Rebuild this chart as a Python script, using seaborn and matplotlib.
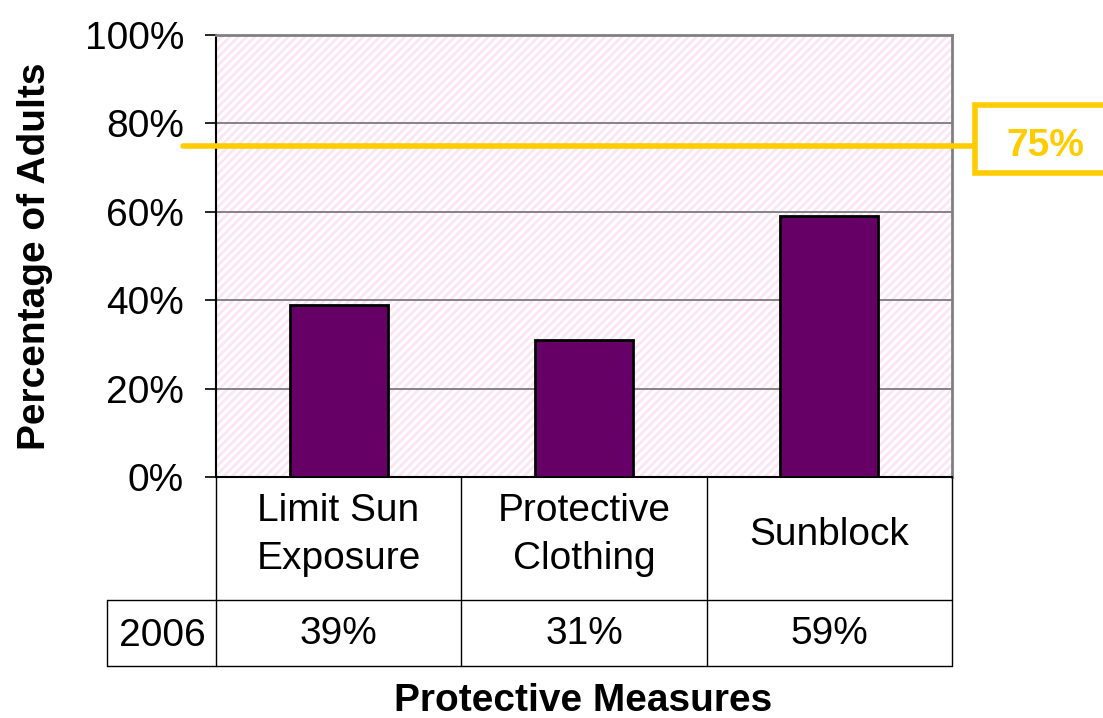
import matplotlib
matplotlib.use("Agg")
import matplotlib.pyplot as plt
import matplotlib.transforms as mtransforms
from matplotlib.patches import Rectangle
from matplotlib.lines import Line2D
import seaborn as sns
import pandas as pd

categories = ["Limit Sun\nExposure", "Protective\nClothing", "Sunblock"]
values = [39, 31, 59]
year_label = "2006"
value_labels = ["39%", "31%", "59%"]
target = 75
target_label = "75%"
yticks = [0, 20, 40, 60, 80, 100]
ytick_labels = ["0%", "20%", "40%", "60%", "80%", "100%"]

sns.set_theme(style="white")
plt.rcParams['font.family'] = ['Liberation Sans', 'DejaVu Sans']
plt.rcParams['hatch.linewidth'] = 2.0
plt.rcParams['text.color'] = 'black'
plt.rcParams['ytick.color'] = 'black'
plt.rcParams['ytick.labelcolor'] = 'black'

W, H = 1103, 718
fig = plt.figure(figsize=(W / 100, H / 100), dpi=100)
ax = fig.add_axes([216 / W, 1 - 477 / H, (952 - 216) / W, (477 - 35) / H])

df = pd.DataFrame({"cat": categories, "val": values})
bg = Rectangle((0, 0), 1, 1, transform=ax.transAxes, facecolor="white",
               edgecolor="#FCE5F4", hatch="////", linewidth=0, zorder=0)
ax.add_patch(bg)
ax.set_facecolor("white")

for t in yticks[1:]:
    ax.axhline(t, color="#707070", linewidth=1.2, zorder=1)

sns.barplot(data=df, x="cat", y="val", color="#660066", width=0.4,
            edgecolor="black", linewidth=2, saturation=1, ax=ax, zorder=3)

ax.set_ylim(0, 100)
ax.set_xlim(-0.5, 2.5)
ax.set_yticks(yticks)
ax.set_yticklabels(ytick_labels, fontsize=28)
ax.set_xticks([])
ax.set_xlabel("")
ax.set_ylabel("")
ax.tick_params(axis="y", length=8, width=1.2, color="black", pad=15, left=True)

for s in ["left", "bottom"]:
    ax.spines[s].set_color("black")
    ax.spines[s].set_linewidth(1.5)
for s in ["top", "right"]:
    ax.spines[s].set_color("#808080")
    ax.spines[s].set_linewidth(2)

# target line and box
yellow = "#FFCC00"
x0 = (183 - 216) / 736
x1 = (975 - 216) / 736
ax.axhline(target, xmin=x0, xmax=x1, color=yellow, linewidth=4,
           clip_on=False, zorder=4)
blend = mtransforms.blended_transform_factory(ax.transAxes, ax.transData)
ax.add_patch(Rectangle((x1, 68.8), 0.3, 84.2 - 68.8, transform=blend,
                       facecolor="white", edgecolor=yellow, linewidth=4,
                       clip_on=False, zorder=5))
ax.text((1045 - 216) / 736, target, target_label, transform=blend, color=yellow,
        fontsize=28, fontweight="bold", ha="center", va="center", zorder=6)

# table under axis
def fx(px):
    return px / W

def fy(py):
    return 1 - py / H

lc = "black"
lw = 1.0
cols = [216, 461, 707, 952]
for xp in cols:
    fig.add_artist(Line2D([fx(xp), fx(xp)], [fy(477), fy(666)], color=lc, linewidth=lw))
fig.add_artist(Line2D([fx(107), fx(107)], [fy(600), fy(666)], color=lc, linewidth=lw))
fig.add_artist(Line2D([fx(107), fx(952)], [fy(600), fy(600)], color=lc, linewidth=lw))
fig.add_artist(Line2D([fx(107), fx(952)], [fy(666), fy(666)], color=lc, linewidth=lw))

for i, (c, v) in enumerate(zip(categories, value_labels)):
    cx = (cols[i] + cols[i + 1]) / 2
    fig.text(fx(cx), fy(535), c, fontsize=28, ha="center", va="center",
             linespacing=1.45)
    fig.text(fx(cx), fy(634), v, fontsize=28, ha="center", va="center")
fig.text(fx(162), fy(636), year_label, fontsize=28, ha="center", va="center")

fig.text(fx(35), fy(256), "Percentage of Adults", fontsize=28, rotation=90,
         fontweight="bold", ha="center", va="center")
fig.text(fx(583), fy(701), "Protective Measures", fontsize=28,
         fontweight="bold", ha="center", va="center")

fig.savefig("out.png", dpi=100)
